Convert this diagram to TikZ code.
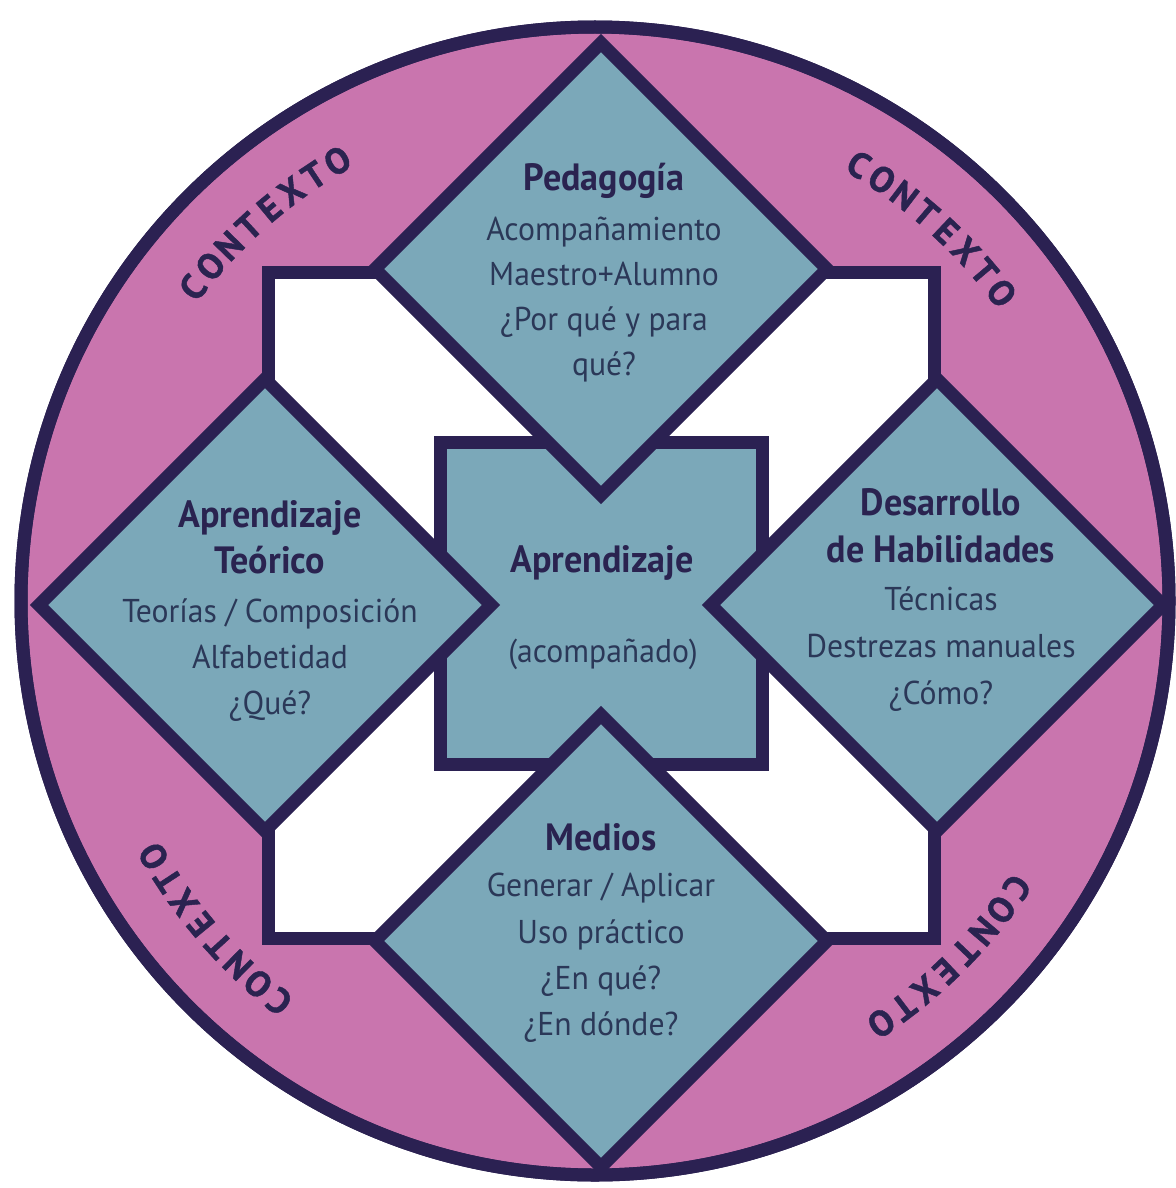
\documentclass[tikz,border=0pt]{standalone}
\usepackage{fontspec}
\setmainfont{PT Sans}[UprightFeatures={FakeStretch=0.96},BoldFeatures={FakeStretch=0.95}]
\newfontfamily\ctxfont{PT Sans}[BoldFeatures={FakeBold=1.2}]
\definecolor{pinkc}{HTML}{C975AE}
\definecolor{tealc}{HTML}{7BA8B9}
\definecolor{navy}{HTML}{2B2152}
\definecolor{inkc}{HTML}{2B3858}
\definecolor{inkb}{HTML}{2A2350}
\begin{document}
\begin{tikzpicture}[x=1pt,y=1pt,
  frame/.style={draw=navy, line width=13pt, line join=miter},
  txt/.style={anchor=base, inner sep=0pt, text=inkc, font=\fontsize{33}{33}\selectfont},
  hd/.style={anchor=base, inner sep=0pt, text=inkb, font=\fontsize{38}{38}\selectfont\bfseries},
  ctx/.style={inner sep=0pt, text=inkb, font=\ctxfont\fontsize{36}{36}\selectfont\bfseries}]
\useasboundingbox (0,0) rectangle (1175,-1188);
\coordinate (cc) at (595,-601);
% outer circle
\path[frame, fill=pinkc] (cc) circle[radius=574];
% big white square
\path[frame, fill=white] (268,-272) rectangle (934,-938);
% central square
\path[frame, fill=tealc] (440,-442) rectangle (762,-764);
% diamonds
\foreach \nm/\cx/\cy in {dtop/601/-269, dleft/265/-605, dright/937/-605, dbot/601/-941}{
  \path[frame, fill=tealc] (\cx,\cy) +(0,226) -- +(226,0) -- +(0,-226) -- +(-226,0) -- cycle;
}
% redraw circle outline on top
\draw[draw=navy, line width=13pt] (cc) circle[radius=574];
% CONTEXTO labels
\foreach \grp/\c in {tl/131.2, tr/48, bl/220.9, br/-45}{
  \foreach \ch [count=\i from 0] in {C,O,N,T,E,X,T,O}{
    \pgfmathsetmacro\ang{\c+(3.5-\i)*3.1}
    \node[ctx, rotate=\ang-90] (\grp-\i) at ([shift={(\ang:510)}]cc) {\ch};
  }
}
% top diamond text
\node[hd]  (p0) at (604,-190) {Pedagogía};
\node[txt] (p1) at (604,-240) {Acompañamiento};
\node[txt] (p2) at (604,-285) {Maestro+Alumno};
\node[txt] (p3) at (604,-330) {¿Por qué y para};
\node[txt] (p4) at (604,-375) {qué?};
% left diamond text
\node[hd]  (l0) at (270,-527) {Aprendizaje};
\node[hd]  (l1) at (270,-573) {Teórico};
\node[txt] (l2) at (270,-622) {Teorías / Composición};
\node[txt] (l3) at (270,-668) {Alfabetidad};
\node[txt] (l4) at (270,-714) {¿Qué?};
% right diamond text
\node[hd]  (r0) at (941,-515) {Desarrollo};
\node[hd]  (r1) at (941,-562) {de Habilidades};
\node[txt] (r2) at (941,-610) {Técnicas};
\node[txt] (r3) at (941,-657) {Destrezas manuales};
\node[txt] (r4) at (941,-704) {¿Cómo?};
% bottom diamond text
\node[hd]  (b0) at (601,-850) {Medios};
\node[txt] (b1) at (601,-896) {Generar / Aplicar};
\node[txt] (b2) at (601,-943) {Uso práctico};
\node[txt] (b3) at (601,-989) {¿En qué?};
\node[txt] (b4) at (601,-1035) {¿En dónde?};
% centre text
\node[hd]  (c0) at (602,-572) {Aprendizaje};
\node[txt] (c1) at (603,-662) {(acompañado)};
\end{tikzpicture}
\end{document}
